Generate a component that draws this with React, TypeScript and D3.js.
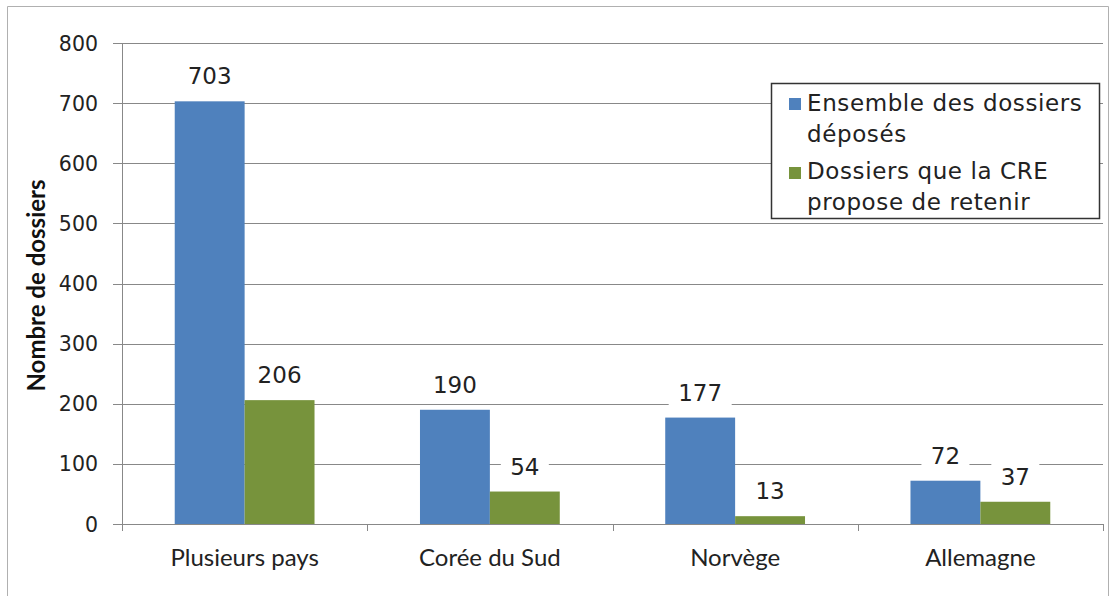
import React from "react";
import * as d3 from "d3";

const categories = ["Plusieurs pays", "Corée du Sud", "Norvège", "Allemagne"];
const seriesNames = ["Ensemble des dossiers déposés", "Dossiers que la CRE propose de retenir"];
const legendLines = [["Ensemble des dossiers", "déposés"], ["Dossiers que la CRE", "propose de retenir"]];
const deposes = [703, 190, 177, 72];
const retenus = [206, 54, 13, 37];
const yTicks = [0, 100, 200, 300, 400, 500, 600, 700, 800];
const colors = ["#4F81BD", "#77933C"];

const W = 1116;
const H = 596;
const left = 122;
const right = 1103;
const top = 43;
const bottom = 524;

export default function App() {
  const x = d3.scaleBand<string>().domain(categories).range([left, right]).paddingInner(0.43).paddingOuter(0.215);
  const xs = d3.scaleBand<number>().domain([0, 1]).range([0, x.bandwidth()]);
  const y = d3.scaleLinear().domain([0, 800]).range([bottom, top]);
  const step = x.step();
  const series = [deposes, retenus];
  const fontArial = "'DejaVu Sans', 'Liberation Sans', Arial, sans-serif";
  const fontCal = "Lato, 'Open Sans', sans-serif";

  return (
    <svg width={W} height={H} style={{ position: "absolute", left: 0, top: 0, background: "#fff" }}>
      <rect x={0} y={0} width={W} height={H} fill="#fff" />
      <path d={`M7.5,${H} V6.5 H1108.5 V${H}`} fill="none" stroke="#b0b0b0" strokeWidth={1} />
      {yTicks.map((t) => (
        <g key={t}>
          <line x1={113} x2={right} y1={Math.round(y(t)) + 0.5} y2={Math.round(y(t)) + 0.5} stroke="#888" strokeWidth={1} />
          <text x={98} y={y(t) + 7.5} textAnchor="end" fontFamily={fontArial} fontSize={20.5} fill="#222">{t}</text>
        </g>
      ))}
      <line x1={left + 0.5} x2={left + 0.5} y1={top} y2={bottom} stroke="#888" />
      {d3.range(categories.length + 1).map((i) => {
        const xx = Math.round(left + i * step) + 0.5;
        return <line key={i} x1={xx} x2={xx} y1={bottom} y2={bottom + 7} stroke="#888" />;
      })}
      {categories.map((c, ci) =>
        series.map((s, si) => {
          const bx = (x(c) as number) + (xs(si) as number);
          const bw = xs.bandwidth();
          return (
            <rect key={c + si} x={bx} y={y(s[ci])} width={bw} height={bottom - y(s[ci])} fill={colors[si]} />
          );
        })
      )}
      {categories.map((c, ci) =>
        series.map((s, si) => {
          const cx = (x(c) as number) + (xs(si) as number) + xs.bandwidth() / 2;
          const by = y(s[ci]) - 17;
          const label = String(s[ci]);
          const tw = label.length * 15 + 18;
          return (
            <g key={"l" + c + si}>
              <rect x={cx - tw / 2} y={by - 22} width={tw} height={27} fill="#fff" />
              <text x={cx} y={by} textAnchor="middle" fontFamily={fontArial} fontSize={23} fill="#222">{label}</text>
            </g>
          );
        })
      )}
      {categories.map((c) => (
        <text key={"c" + c} x={(x(c) as number) + x.bandwidth() / 2} y={566} textAnchor="middle" fontFamily={fontCal} fontSize={24} fill="#222">{c}</text>
      ))}
      <text transform={`translate(45,${(top + bottom) / 2 + 2}) rotate(-90)`} textAnchor="middle" fontFamily={fontCal} fontWeight="bold" fontSize={24} fill="#111">Nombre de dossiers</text>
      <g>
        <rect x={771.5} y={83.5} width={328} height={135} fill="#fff" stroke="#333" strokeWidth={1.5} />
        {legendLines.map((lines, i) => (
          <g key={seriesNames[i]}>
            <rect x={789} y={98 + i * 69} width={12} height={12} fill={colors[i]} />
            {lines.map((ln, j) => (
              <text key={ln} x={807} y={111 + i * 68 + j * 31} fontFamily={fontArial} fontSize={23} letterSpacing={0.6} fill="#222">{ln}</text>
            ))}
          </g>
        ))}
      </g>
    </svg>
  );
}
